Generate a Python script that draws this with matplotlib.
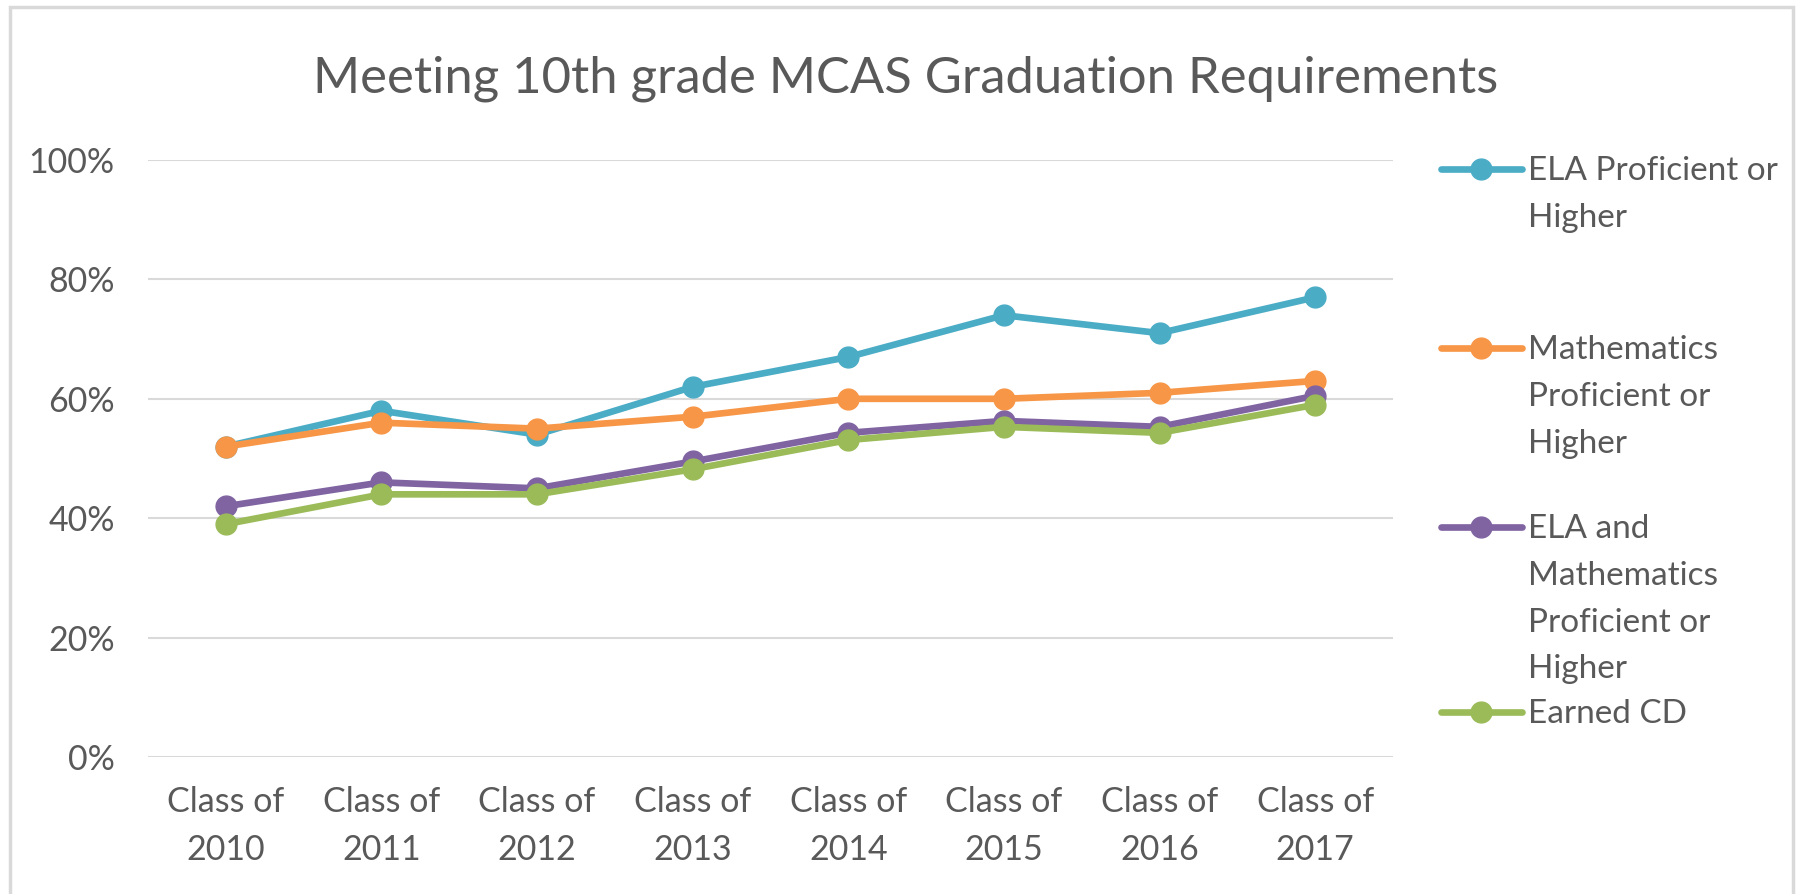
import matplotlib.pyplot as plt
import matplotlib.ticker as mticker
from matplotlib.lines import Line2D
from matplotlib.patches import Rectangle

plt.rcParams['font.family'] = ['Lato', 'DejaVu Sans']

classes = ["Class of\n2010", "Class of\n2011", "Class of\n2012", "Class of\n2013",
           "Class of\n2014", "Class of\n2015", "Class of\n2016", "Class of\n2017"]
ela = [52, 58, 54, 62, 67, 74, 71, 77]
math = [52, 56, 55, 57, 60, 60, 61, 63]
ela_and_math = [42, 46, 45, 49.5, 54.3, 56.3, 55.3, 60.5]
earned_cd = [39, 44, 44, 48.2, 53.1, 55.3, 54.3, 59]

series_names = ["ELA Proficient or\nHigher", "Mathematics\nProficient or\nHigher",
                "ELA and\nMathematics\nProficient or\nHigher", "Earned CD"]
series_values = [ela, math, ela_and_math, earned_cd]
colors = ["#4bacc6", "#f79646", "#8064a2", "#9bbb59"]

W, H = 1801, 894
text_gray = "#595959"
fig = plt.figure(figsize=(W / 100, H / 100), dpi=100)
ax = fig.add_axes([148 / W, 1 - 757 / H, (1393 - 148) / W, (757 - 160) / H])

x = list(range(len(classes)))
for vals, c in zip(series_values, colors):
    ax.plot(x, vals, color=c, lw=4.8, marker='o', markersize=15, solid_capstyle='round')

ax.set_xlim(-0.5, len(classes) - 0.5)
ax.set_ylim(0, 100)
ax.yaxis.set_major_locator(mticker.MultipleLocator(20))
ax.yaxis.set_major_formatter(mticker.FuncFormatter(lambda v, p: f"{v:.0f}%"))
ax.set_xticks(x)
ax.set_xticklabels(classes, linespacing=1.62)
ax.tick_params(axis='both', length=0, colors=text_gray, labelsize=24.5)
ax.tick_params(axis='y', pad=24)
ax.tick_params(axis='x', pad=21)
ax.grid(axis='y', color='#d9d9d9', lw=1.5)
ax.set_axisbelow(True)
for s in ax.spines.values():
    s.set_visible(False)

fig.text(906 / W, 1 - 79 / H, "Meeting 10th grade MCAS Graduation Requirements",
         ha='center', va='center', fontsize=36.5, color=text_gray)

# legend drawn by hand so the handle sits on the first line of wrapped text
legend_y = [169, 348, 527, 712]
for name, c, ly in zip(series_names, colors, legend_y):
    yf = 1 - ly / H
    fig.add_artist(Line2D([1441 / W, 1522 / W], [yf, yf], color=c, lw=4.8,
                          solid_capstyle='round', transform=fig.transFigure))
    fig.add_artist(Line2D([1481 / W], [yf], color=c, marker='o', markersize=15,
                          transform=fig.transFigure))
    fig.text(1528 / W, yf + 13 / H, name, ha='left', va='top', fontsize=24,
             color=text_gray, linespacing=1.7)

fig.add_artist(Rectangle((10 / W, -0.05), (1793 - 10) / W, 1.05 - 7 / H, fill=False,
                         edgecolor='#d9d9d9', lw=2.5, transform=fig.transFigure))

fig.savefig("out.png", dpi=100)
